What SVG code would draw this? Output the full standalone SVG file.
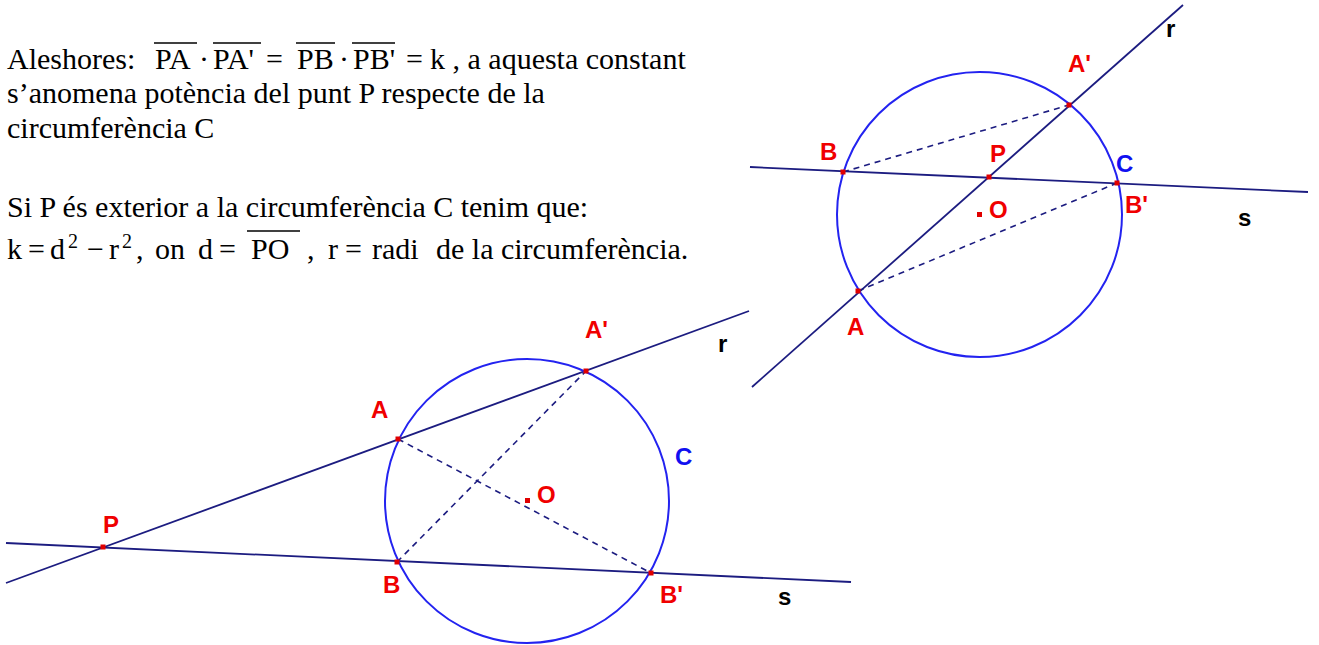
<svg xmlns="http://www.w3.org/2000/svg" width="1319" height="645" viewBox="0 0 1319 645">
<style>
.t{font-family:"Liberation Serif","Times New Roman",serif;font-size:30px;fill:#000}
.sup{font-family:"Liberation Serif","Times New Roman",serif;font-size:20px;fill:#000}
.bar{stroke:#000;stroke-width:1.4}
.ln{stroke:#1c1c80;stroke-width:1.8;fill:none}
.dash{stroke:#1c1c80;stroke-width:1.6;fill:none;stroke-dasharray:6 5}
.circ{stroke:#2323f0;stroke-width:2;fill:none}
.pt{fill:#e00000}
.lr{font-family:"Liberation Sans",Arial,sans-serif;font-weight:bold;font-size:24px;fill:#f00000}
.lb{font-family:"Liberation Sans",Arial,sans-serif;font-weight:bold;font-size:24px;fill:#1010f0}
.lk{font-family:"Liberation Sans",Arial,sans-serif;font-weight:bold;font-size:24px;fill:#000}
</style>
<rect width="1319" height="645" fill="#fff"/>
<g id="text">
<text class="t" x="7" y="69">Aleshores:</text>
<text class="t" x="155" y="69">PA</text>
<text class="t" x="199" y="69">·</text>
<text class="t" x="213" y="69">PA'</text>
<text class="t" x="266" y="69">=</text>
<text class="t" x="297" y="69">PB</text>
<text class="t" x="339" y="69">·</text>
<text class="t" x="353" y="69">PB'</text>
<text class="t" x="406" y="69">=</text>
<text class="t" x="430" y="69">k , a aquesta constant</text>
<line class="bar" x1="154" y1="43" x2="197" y2="43"/>
<line class="bar" x1="213" y1="43" x2="261" y2="43"/>
<line class="bar" x1="296" y1="43" x2="335" y2="43"/>
<line class="bar" x1="352" y1="43" x2="395" y2="43"/>
<text class="t" x="7" y="103">s’anomena potència del punt P respecte de la</text>
<text class="t" x="7" y="138">circumferència C</text>
<text class="t" x="7" y="217">Si P és exterior a la circumferència C tenim que:</text>
<text class="t" x="7" y="259">k</text>
<text class="t" x="28" y="259">=</text>
<text class="t" x="50" y="259">d</text>
<text class="sup" x="68" y="248">2</text>
<text class="t" x="87" y="259">−</text>
<text class="t" x="109" y="259">r</text>
<text class="sup" x="122" y="248">2</text>
<text class="t" x="136" y="259">,</text>
<text class="t" x="155" y="259">on</text>
<text class="t" x="198" y="259">d</text>
<text class="t" x="219" y="259">=</text>
<text class="t" x="251" y="259">PO</text>
<line class="bar" x1="247" y1="231" x2="300" y2="231"/>
<text class="t" x="307" y="259">,</text>
<text class="t" x="328" y="259">r</text>
<text class="t" x="345" y="259">=</text>
<text class="t" x="372" y="259">radi</text>
<text class="t" x="436" y="259">de la circumferència.</text>
</g>
<g id="connectors">
<line class="ln" x1="750" y1="167" x2="1308" y2="192"/>
<line class="ln" x1="752" y1="387" x2="1183" y2="5"/>
<line class="dash" x1="843" y1="172" x2="1069" y2="105"/>
<line class="dash" x1="858" y1="291" x2="1117" y2="183"/>
<line class="ln" x1="6" y1="543" x2="851" y2="582"/>
<line class="ln" x1="6" y1="583" x2="749" y2="311"/>
<line class="dash" x1="398" y1="439" x2="651" y2="573"/>
<line class="dash" x1="397" y1="562" x2="586" y2="371"/>
</g>
<g id="circle-right"><circle class="circ" cx="979.5" cy="214.5" r="142.5"/></g>
<g id="circle-lower"><circle class="circ" cx="527" cy="501" r="142"/></g>
<g id="points-right">
<rect class="pt" x="840.5" y="169.5" width="5" height="5"/>
<rect class="pt" x="986.5" y="174.5" width="5" height="5"/>
<rect class="pt" x="1066.5" y="102.5" width="5" height="5"/>
<rect class="pt" x="1114.5" y="180.5" width="5" height="5"/>
<rect class="pt" x="855.5" y="288.5" width="5" height="5"/>
<rect class="pt" x="977" y="212" width="5" height="5"/>
</g>
<g id="points-lower">
<rect class="pt" x="100.5" y="544.5" width="5" height="5"/>
<rect class="pt" x="395.5" y="436.5" width="5" height="5"/>
<rect class="pt" x="394.5" y="559.5" width="5" height="5"/>
<rect class="pt" x="583.5" y="368.5" width="5" height="5"/>
<rect class="pt" x="648.5" y="570.5" width="5" height="5"/>
<rect class="pt" x="525" y="498" width="5" height="5"/>
</g>
<g id="labels-right">
<text class="lr" x="820" y="160">B</text>
<text class="lr" x="990" y="162">P</text>
<text class="lr" x="1068" y="72">A'</text>
<text class="lk" x="1166" y="37">r</text>
<text class="lb" x="1116" y="172">C</text>
<text class="lr" x="1125" y="213">B'</text>
<text class="lr" x="989" y="218">O</text>
<text class="lk" x="1238" y="226">s</text>
<text class="lr" x="847" y="335">A</text>
</g>
<g id="labels-lower">
<text class="lr" x="103" y="533">P</text>
<text class="lr" x="371" y="418">A</text>
<text class="lr" x="383" y="593">B</text>
<text class="lr" x="585" y="338">A'</text>
<text class="lk" x="718" y="352">r</text>
<text class="lb" x="675" y="465">C</text>
<text class="lr" x="537" y="503">O</text>
<text class="lr" x="660" y="603">B'</text>
<text class="lk" x="778" y="605">s</text>
</g>
</svg>
